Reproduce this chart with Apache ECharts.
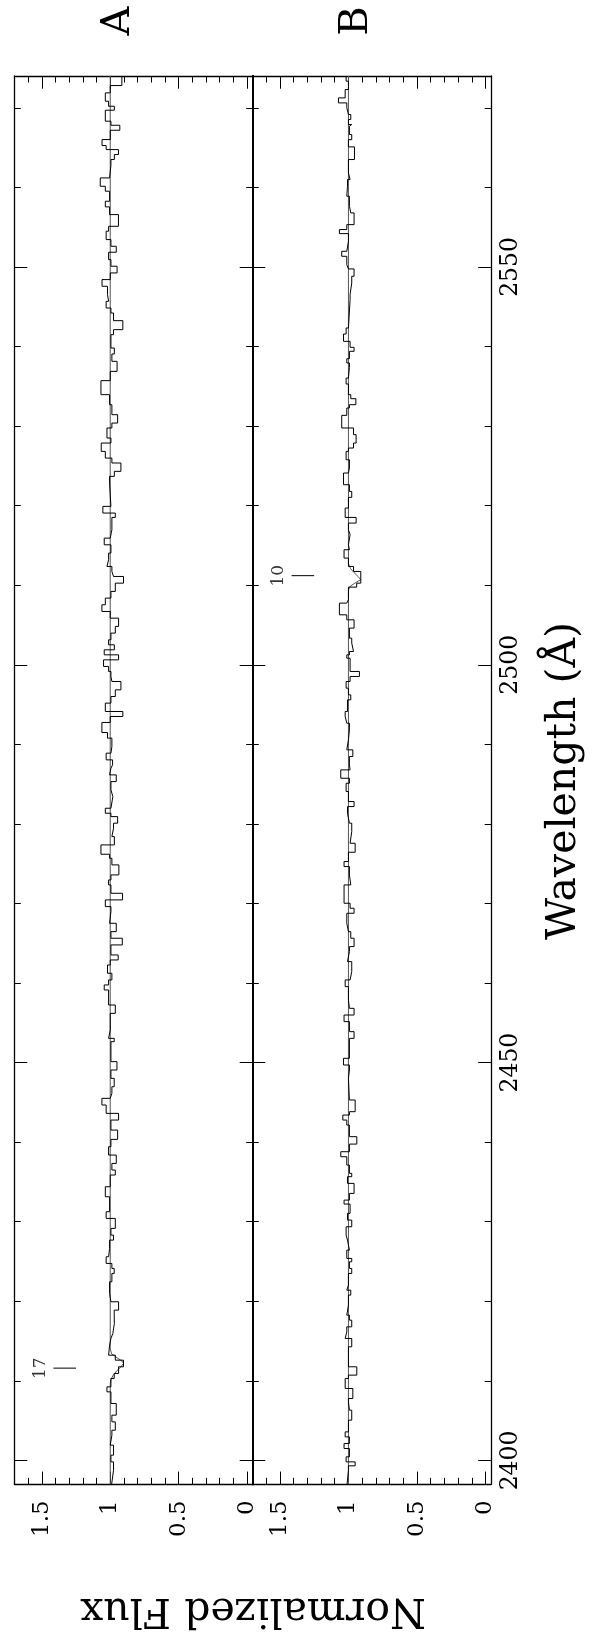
<!DOCTYPE html>
<html>
<head>
<meta charset="utf-8">
<script src="https://cdn.jsdelivr.net/npm/echarts@6/dist/echarts.min.js"></script>
<style>
html,body{margin:0;padding:0;background:#fff;}
#chart{width:597px;height:1637px;}
</style>
</head>
<body>
<div id="chart"></div>
<script>
// ---- axis ranges and tick values ----
const fluxMin = -0.04, fluxMax = 1.7;
const waveMin = 2397, waveMax = 2574;
const majorFlux = [0, 0.5, 1, 1.5];
const minorFlux = [0, 0.1, 0.2, 0.3, 0.4, 0.5, 0.6, 0.7, 0.8, 0.9, 1.0, 1.1, 1.2, 1.3, 1.4, 1.5, 1.6];
const majorWave = [2400, 2450, 2500, 2550];
const minorWave = [2400, 2410, 2420, 2430, 2440, 2450, 2460, 2470, 2480, 2490, 2500, 2510, 2520, 2530, 2540, 2550, 2560, 2570];
const panelNames = ['A', 'B'];

// ---- spectrum A: bin edges (descending wavelength) and flux per bin ----
const waveA = [2574, 2572.8, 2571.88, 2570.83, 2570.2, 2569.7, 2568.32, 2567.81, 2567.18, 2566.01, 2565.26, 2564.75, 2564.13, 2563.5, 2562.74, 2561.19, 2560.14, 2559.52, 2558.26, 2557.55, 2556.58, 2555.11, 2554.49, 2553.44, 2552.6, 2551.85, 2550.92, 2550.09, 2549.25, 2548.41, 2547.57,
 2546.52, 2545.68, 2544.84, 2544.21, 2543.25, 2542.12, 2541.49, 2539.81, 2539.06, 2538.14, 2536.88, 2535.71, 2533.95, 2532.69, 2531.43, 2530.38, 2529.76, 2528.5, 2527.87, 2526.82, 2525.98, 2525.36, 2524.31, 2523.68, 2522.84, 2521.37, 2519.91, 2519.07, 2518.52,
 2516.97, 2515.92, 2515.08, 2514.04, 2513.2, 2512.36, 2511.73, 2511.1, 2510.26, 2509.22, 2508.38, 2507.54, 2506.7, 2505.86, 2504.82, 2503.98, 2503.14, 2502.51, 2501.88, 2501.25, 2500.62, 2499.79, 2499.16, 2498.53, 2497.9, 2496.85, 2496.01, 2495.18, 2494.13, 2493.5, 2492.75, 2491.49, 2490.78, 2489.73, 2488.89, 2488.05,
 2487.42, 2487.0, 2486.16, 2485.32, 2484.28, 2483.44, 2481.97, 2481.34, 2480.92, 2480.09, 2479.46, 2478.41, 2477.36, 2476.19, 2475.68, 2474.85, 2473.59, 2472.96, 2472.33, 2471.28, 2470.45, 2469.61, 2468.98, 2467.51, 2466.46, 2465.63, 2464.79, 2463.53, 2462.9, 2462.27, 2461.23, 2460.39, 2459.76, 2459.13,
 2457.87, 2457.24, 2456.19, 2454.1, 2453.05, 2452.63, 2450.12, 2449.07, 2448.02, 2446.97, 2446.14, 2445.51, 2444.67, 2443.62, 2442.78, 2441.52, 2440.35, 2439.43, 2438.38, 2437.33, 2436.5, 2435.87, 2434.4, 2433.14, 2431.26, 2430.42, 2429.16,
 2428.32, 2427.69, 2426.64, 2425.6, 2424.76, 2424.13, 2423.5, 2422.45, 2420.99, 2419.94, 2418.89, 2418.26, 2417.21, 2415.96, 2415.33, 2414.49, 2413.23, 2412.6, 2411.77, 2410.93, 2410.3, 2409.25, 2408.62, 2407.15, 2405.69, 2404.85, 2403.8, 2403.17, 2401.92, 2400.66, 2399.82, 2398.77, 2397];
const fluxA = [0.915, 1.0, 1.036, 1.012, 0.97, 1.036, 0.995, 0.93, 1.0, 1.06, 1.03, 0.94, 0.97, 0.995, 1.005, 1.073, 1.036, 1.005, 1.036, 1.005, 0.94, 1.012, 1.03, 0.995, 0.956, 1.012, 0.995, 0.95, 1.0, 1.06, 1.02,
 1.012, 1.03, 0.995, 0.976, 0.908, 0.976, 0.995, 0.97, 0.988, 0.95, 1.0, 1.068, 1.005, 0.988, 0.946, 0.988, 1.024, 0.995, 1.066, 1.036, 0.988, 0.922, 0.97, 1.005, 1.0, 0.995, 1.054, 0.963, 0.988,
 1.0, 1.044, 0.995, 1.012, 1.024, 0.988, 0.976, 0.903, 0.963, 0.995, 1.036, 1.061, 1.0, 0.939, 0.963, 0.995, 1.012, 0.97, 1.044, 0.939, 1.049, 1.012, 0.995, 0.988, 0.922, 0.963, 0.995, 1.036, 0.908, 1.0, 1.061, 1.02, 0.988, 0.995, 1.03, 0.983,
 0.995, 1.005, 0.956, 0.995, 0.981, 0.995, 1.036, 0.995, 0.946, 0.976, 0.988, 0.97, 1.068, 1.005, 0.988, 0.937, 0.995, 1.012, 0.995, 0.91, 1.036, 0.995, 1.005, 0.956, 0.995, 0.912, 0.995, 0.942, 1.0, 1.02, 0.988, 1.012, 1.044, 1.012,
 1.012, 0.963, 1.0, 1.012, 0.971, 0.995, 0.951, 0.995, 0.971, 0.988, 1.0, 1.061, 1.03, 0.939, 0.995, 0.946, 0.995, 1.012, 0.956, 0.988, 0.963, 1.0, 1.036, 1.005, 1.03, 0.963, 0.995,
 0.976, 1.005, 1.012, 1.03, 0.988, 0.971, 0.988, 1.005, 0.995, 0.939, 0.971, 0.97, 0.981, 0.995, 1.005, 1.012, 0.963, 0.903, 0.939, 0.971, 0.995, 1.024, 0.995, 0.956, 0.988, 0.963, 0.988, 1.0, 0.976, 0.995, 0.976, 0.99];

// ---- spectrum B ----
const waveB = [2574, 2573.35, 2572.3, 2571.25, 2570.62, 2570.0, 2569.16, 2568.53, 2567.9, 2567.7, 2566.64, 2566.0, 2565.09, 2563.5, 2561.82, 2560.98, 2560.14, 2558.89, 2557.63, 2556.79, 2555.32, 2554.7, 2554.19, 2553.23, 2551.97, 2551.34, 2550.29, 2549.75, 2548.83, 2547.99,
 2546.52, 2545.89, 2542.33, 2541.57, 2540.65, 2539.9, 2539.4, 2538.47, 2537.93, 2537.38, 2536.04, 2535.29, 2533.95, 2533.44, 2532.69, 2532.27, 2531.35, 2529.76, 2528.92, 2527.87, 2527.24, 2526.82, 2525.77, 2524.73, 2524.1, 2522.63, 2521.79, 2521.04, 2519.7, 2518.52, 2517.81,
 2516.97, 2516.34, 2515.08, 2514.46, 2513.41, 2512.36, 2511.73, 2510.26, 2509.76, 2508.17, 2507.75, 2506.28, 2505.65, 2504.61, 2503.35, 2502.72, 2501.67, 2501.25, 2500.83, 2499.16, 2498.53, 2497.9, 2497.06, 2496.22, 2495.59, 2494.13, 2493.5, 2492.66, 2491.82, 2490.57, 2489.31, 2488.47,
 2487.42, 2486.79, 2485.74, 2485.11, 2484.07, 2482.81, 2482.18, 2481.34, 2480.09, 2479.04, 2477.57, 2476.44, 2475.27, 2474.64, 2473.59, 2472.33, 2470.03, 2469.4, 2468.77, 2467.51, 2466.46, 2465.63, 2464.58, 2463.95, 2462.69, 2461.44, 2460.39, 2459.55,
 2457.87, 2456.82, 2455.98, 2455.15, 2453.89, 2453.05, 2450.54, 2449.7, 2449.07, 2448.02, 2445.3, 2443.83, 2443.41, 2442.78, 2442.15, 2440.69, 2439.76, 2438.8, 2438.17, 2437.12, 2436.08, 2435.66, 2434.82, 2433.56, 2432.72, 2432.22, 2431.05, 2430.21, 2429.37,
 2428.32, 2427.69, 2426.43, 2425.39, 2424.97, 2424.13, 2423.5, 2422.03, 2421.4, 2420.78, 2419.52, 2418.26, 2417.63, 2416.79, 2416.17, 2415.33, 2414.28, 2411.77, 2410.72, 2410.3, 2409.04, 2407.78, 2407.36, 2406.32, 2405.06, 2403.59, 2402.96, 2402.12, 2401.5, 2400.45, 2399.82, 2399.32, 2398.77, 2397];
const fluxB = [1.017, 1.0, 1.024, 1.073, 1.012, 1.0, 0.983, 1.0, 0.976, 0.993, 0.976, 1.0, 0.956, 1.0, 0.988, 1.007, 1.012, 0.993, 0.983, 0.959, 1.012, 1.066, 1.0, 1.012, 1.049, 1.012, 1.0, 0.959, 0.976, 0.988,
 0.988, 1.0, 1.017, 1.036, 0.988, 0.959, 0.993, 1.012, 0.993, 1.0, 1.017, 1.0, 0.983, 0.946, 0.993, 1.012, 1.049, 0.963, 0.944, 0.963, 1.0, 1.017, 0.993, 1.0, 1.036, 0.993, 0.976, 1.0, 1.024, 0.944, 1.0,
 0.988, 1.0, 0.993, 1.032, 1.0, 0.963, 0.91, 0.94, 1.0, 1.012, 1.066, 1.012, 0.959, 0.993, 0.976, 0.963, 0.993, 1.012, 0.988, 0.92, 0.988, 1.017, 1.0, 0.983, 1.007, 1.024, 1.012, 0.993, 1.0, 1.012, 0.968, 0.993,
 0.988, 1.056, 0.993, 1.017, 1.0, 0.959, 1.007, 0.993, 0.976, 0.988, 0.951, 1.0, 1.032, 0.993, 0.983, 1.032, 0.988, 0.959, 1.012, 1.0, 0.983, 0.959, 0.993, 1.007, 0.976, 0.988, 1.024, 1.0,
 0.993, 0.959, 1.032, 0.993, 0.959, 0.993, 1.036, 0.993, 1.0, 0.993, 0.951, 0.993, 1.041, 1.012, 0.993, 0.939, 0.993, 1.056, 1.012, 0.993, 0.976, 1.007, 0.959, 0.993, 1.032, 0.988, 1.007, 0.976, 1.017,
 1.007, 0.993, 1.012, 0.976, 0.993, 0.976, 1.0, 1.012, 0.983, 1.0, 1.012, 0.993, 0.976, 1.012, 1.024, 0.976, 1.0, 0.939, 1.0, 1.024, 0.968, 1.0, 0.993, 0.976, 1.0, 1.024, 0.993, 1.032, 0.993, 1.017, 0.951, 1.0, 1.01];

// ---- smooth fit (model) ----
const fitWaveA = [2574, 2414.0, 2413.4, 2412.9, 2412.5, 2412.2, 2411.8, 2411.3, 2410.8, 2410.2, 2409.6, 2397];
const fitFluxA = [1, 1, 0.99, 0.95, 0.915, 0.903, 0.92, 0.95, 0.975, 0.995, 1, 1];
const fitWaveB = [2574, 2512.7, 2512.1, 2511.6, 2511.1, 2510.7, 2510.3, 2509.9, 2509.4, 2397];
const fitFluxB = [1, 1, 0.985, 0.96, 0.93, 0.91, 0.95, 0.985, 1, 1];

// ---- line identification markers ----
const markWave = [2411.6, 2511.2];
const markText = ['17', '10'];
const markLo = 1.25, markHi = 1.415, markLabelFlux = 1.51;

const FONT = 'DejaVu Serif';
const chart = echarts.init(document.getElementById('chart'), null, {renderer: 'canvas'});

function steps(w, f) {
  const pts = [];
  for (let i = 0; i < f.length; i++) { pts.push([f[i], w[i]]); pts.push([f[i], w[i + 1]]); }
  return pts;
}
function zip(f, w) { return f.map((v, i) => [v, w[i]]); }
const plain = v => String(v);

const grids = [
  {left: 14.5, top: 76, width: 238, height: 1408.3},
  {left: 252.5, top: 76, width: 238.5, height: 1408.3}
];
const xAxes = [], yAxes = [], series = [];
const spectra = [[waveA, fluxA, fitWaveA, fitFluxA], [waveB, fluxB, fitWaveB, fitFluxB]];

grids.forEach((g, gi) => {
  const baseX = {gridIndex: gi, type: 'value', inverse: true, min: fluxMin, max: fluxMax, splitLine: {show: false}};
  const lineOn = {show: true, onZero: false, lineStyle: {color: '#000', width: 1.3}};
  const lineOff = {show: false, onZero: false};
  xAxes.push(Object.assign({}, baseX, {position: 'bottom', axisLine: lineOn,
    axisTick: {show: true, inside: true, length: 12.7, customValues: majorFlux, lineStyle: {color: '#000', width: 1}},
    axisLabel: {show: true, customValues: majorFlux, formatter: plain, rotate: 90, margin: 16, fontFamily: FONT, fontSize: 23, color: '#000'}}));
  xAxes.push(Object.assign({}, baseX, {position: 'bottom', axisLine: lineOff,
    axisTick: {show: true, inside: true, length: 6.5, customValues: minorFlux, lineStyle: {color: '#000', width: 1}},
    axisLabel: {show: false}}));
  xAxes.push(Object.assign({}, baseX, {position: 'top', axisLine: lineOn,
    axisTick: {show: true, inside: true, length: 12.7, customValues: majorFlux, lineStyle: {color: '#000', width: 1}},
    axisLabel: {show: false}}));
  xAxes.push(Object.assign({}, baseX, {position: 'top', axisLine: lineOff,
    axisTick: {show: true, inside: true, length: 6.5, customValues: minorFlux, lineStyle: {color: '#000', width: 1}},
    axisLabel: {show: false}}));

  const baseY = {gridIndex: gi, type: 'value', min: waveMin, max: waveMax, splitLine: {show: false}};
  const leftW = gi === 0 ? 1.3 : 2;
  const rightW = gi === 0 ? 2 : 1.3;
  yAxes.push(Object.assign({}, baseY, {position: 'left', axisLine: {show: true, onZero: false, lineStyle: {color: '#000', width: leftW}},
    axisTick: {show: true, inside: true, length: 12.8, customValues: majorWave, lineStyle: {color: '#000', width: 1}},
    axisLabel: {show: false}}));
  yAxes.push(Object.assign({}, baseY, {position: 'left', axisLine: lineOff,
    axisTick: {show: true, inside: true, length: 6.3, customValues: minorWave, lineStyle: {color: '#000', width: 1}},
    axisLabel: {show: false}}));
  yAxes.push(Object.assign({}, baseY, {position: 'right', axisLine: {show: true, onZero: false, lineStyle: {color: '#000', width: rightW}},
    axisTick: {show: true, inside: true, length: 12.8, customValues: majorWave, lineStyle: {color: '#000', width: 1}},
    axisLabel: gi === 1 ? {show: true, customValues: majorWave, formatter: plain, rotate: 90, margin: 8, fontFamily: FONT, fontSize: 23.5, color: '#000'} : {show: false}}));
  yAxes.push(Object.assign({}, baseY, {position: 'right', axisLine: lineOff,
    axisTick: {show: true, inside: true, length: 6.3, customValues: minorWave, lineStyle: {color: '#000', width: 1}},
    axisLabel: {show: false}}));

  const [w, f, fw, ff] = spectra[gi];
  const xi = gi * 4, yi = gi * 4;
  series.push({type: 'line', xAxisIndex: xi, yAxisIndex: yi, data: zip(ff, fw), symbol: 'none', silent: true,
    lineStyle: {color: '#555', width: 1}, z: 2});
  series.push({type: 'line', xAxisIndex: xi, yAxisIndex: yi, data: steps(w, f), symbol: 'none', silent: true,
    lineStyle: {color: '#000', width: 1}, z: 3});
  series.push({type: 'line', xAxisIndex: xi, yAxisIndex: yi, data: [[markLo, markWave[gi]], [markHi, markWave[gi]]],
    symbol: 'none', silent: true, lineStyle: {color: '#000', width: 1}, z: 3});
  series.push({type: 'scatter', xAxisIndex: xi, yAxisIndex: yi, data: [[markLabelFlux, markWave[gi]]], symbolSize: 1,
    itemStyle: {color: 'rgba(0,0,0,0)'}, silent: true,
    label: {show: true, position: 'inside', rotate: 90, formatter: markText[gi], fontFamily: FONT, fontSize: 17, color: '#000'}});
});

const graphic = [
  {type: 'text', x: 119, y: 21, rotation: Math.PI / 2, style: {text: panelNames[0], fontFamily: FONT, fontSize: 40, fill: '#000', align: 'center', verticalAlign: 'middle'}},
  {type: 'text', x: 357, y: 21, rotation: Math.PI / 2, style: {text: panelNames[1], fontFamily: FONT, fontSize: 40, fill: '#000', align: 'center', verticalAlign: 'middle'}},
  {type: 'text', x: 564, y: 781, rotation: Math.PI / 2, style: {text: 'Wavelength (Å)', fontFamily: FONT, fontSize: 41, fill: '#000', align: 'center', verticalAlign: 'middle'}},
  {type: 'text', x: 253, y: 1610, rotation: Math.PI, style: {text: 'Normalized Flux', fontFamily: FONT, fontSize: 41, fill: '#000', align: 'center', verticalAlign: 'middle'}}
];

chart.setOption({
  animation: false,
  backgroundColor: '#fff',
  grid: grids,
  xAxis: xAxes,
  yAxis: yAxes,
  series: series,
  graphic: graphic
});
</script>
</body>
</html>
